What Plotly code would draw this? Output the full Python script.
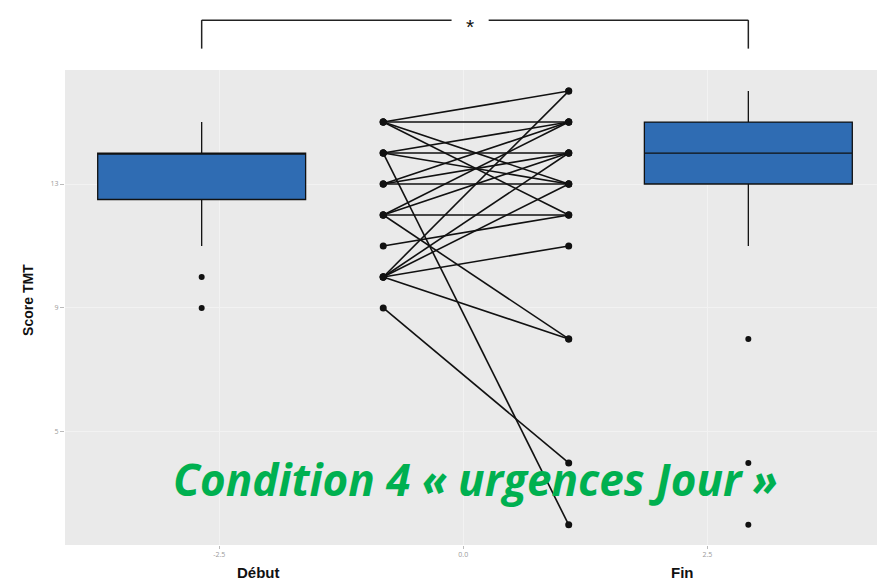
import plotly.graph_objects as go

# ---- data ----
pos_debut_box = -2.68
pos_fin_box = 2.92
pos_debut_pts = -0.82
pos_fin_pts = 1.08

debut_stats = dict(q1=12.5, median=14, q3=14, lowerfence=11, upperfence=15)
fin_stats = dict(q1=13, median=14, q3=15, lowerfence=11, upperfence=16)
debut_outliers = [10, 9]
fin_outliers = [8, 4, 2]

score_debut = [15, 15, 15, 15, 14, 14, 14, 14, 13, 13, 13, 12, 12, 12, 12, 11, 10, 10, 10, 10, 10, 9]
score_fin   = [16, 15, 13, 12, 15, 14, 13, 2, 15, 14, 13, 15, 14, 12, 8, 12, 16, 14, 13, 11, 8, 4]

y_ticks = [13, 9, 5]
y_ticklabels = ["13", "9", "5"]
x_ticks = [-2.5, 0, 2.5]
x_ticklabels = ["-2.5", "0.0", "2.5"]
groups = ["Début", "Fin"]
group_label_pos = [-2.1, 2.25]

BOX_COLOR = "#2F6CB3"

fig = go.Figure()

for pos, st in [(pos_debut_box, debut_stats), (pos_fin_box, fin_stats)]:
    fig.add_trace(go.Box(
        x=[pos], q1=[st["q1"]], median=[st["median"]], q3=[st["q3"]],
        lowerfence=[st["lowerfence"]], upperfence=[st["upperfence"]],
        width=2.13, whiskerwidth=0, fillcolor=BOX_COLOR,
        line=dict(color="#111111", width=1.3), boxpoints=False,
        showlegend=False, hoverinfo="skip"))

fig.add_trace(go.Scatter(
    x=[pos_debut_box] * len(debut_outliers) + [pos_fin_box] * len(fin_outliers),
    y=debut_outliers + fin_outliers, mode="markers",
    marker=dict(color="#111111", size=6), showlegend=False, hoverinfo="skip"))

lx, ly = [], []
for a, b in zip(score_debut, score_fin):
    lx += [pos_debut_pts, pos_fin_pts, None]
    ly += [a, b, None]
fig.add_trace(go.Scatter(
    x=lx, y=ly, mode="lines+markers",
    line=dict(color="#111111", width=1.6),
    marker=dict(color="#111111", size=7),
    showlegend=False, hoverinfo="skip"))

# significance bracket
bl = dict(color="#222", width=1.5)
fig.add_shape(type="line", xref="x", yref="paper", x0=pos_debut_box, x1=pos_debut_box,
              y0=1.045, y1=1.105, line=bl)
fig.add_shape(type="line", xref="x", yref="paper", x0=pos_fin_box, x1=pos_fin_box,
              y0=1.045, y1=1.105, line=bl)
fig.add_shape(type="line", xref="x", yref="paper", x0=pos_debut_box, x1=-0.12,
              y0=1.105, y1=1.105, line=bl)
fig.add_shape(type="line", xref="x", yref="paper", x0=0.26, x1=pos_fin_box,
              y0=1.105, y1=1.105, line=bl)
fig.add_annotation(text="*", xref="x", yref="paper", x=0.07, y=1.105, yshift=7,
                   showarrow=False, font=dict(size=21, color="#111", family="Liberation Sans"))

fig.add_annotation(text="<b><i>Condition 4 « urgences Jour »</i></b>", xref="paper", yref="paper",
                   x=0.5, y=0.072, showarrow=False,
                   font=dict(size=44, color="#00B050", family="Open Sans"))

for pos, g in zip(group_label_pos, groups):
    fig.add_annotation(text="<b>" + g + "</b>", xref="x", yref="paper", x=pos, y=-0.036,
                       yanchor="top", showarrow=False,
                       font=dict(size=15, color="#111", family="Liberation Sans"))

fig.add_annotation(text="<b>Score TMT</b>", xref="paper", yref="paper", x=0, y=0.516,
                   xshift=-47, textangle=-90, showarrow=False,
                   font=dict(size=14, color="#111", family="Liberation Sans"))

fig.update_layout(
    width=877, height=577,
    margin=dict(l=57, r=0, t=62, b=40),
    paper_bgcolor="white", plot_bgcolor="#EAEAEA",
    xaxis=dict(range=[-4.08, 4.32], tickvals=x_ticks, ticktext=x_ticklabels,
               tickfont=dict(size=7, color="#9a9a9a"), ticks="outside", ticklen=3,
               tickcolor="#bbb", showgrid=True, gridcolor="#F2F2F2", zeroline=False,
               automargin=False),
    yaxis=dict(range=[1.35, 16.68], tickvals=y_ticks, ticktext=y_ticklabels,
               tickfont=dict(size=7, color="#9a9a9a"), ticks="outside", ticklen=4,
               tickcolor="#bbb", showgrid=True, gridcolor="#F2F2F2", zeroline=False,
               automargin=False),
)

fig.write_html("out.html")
